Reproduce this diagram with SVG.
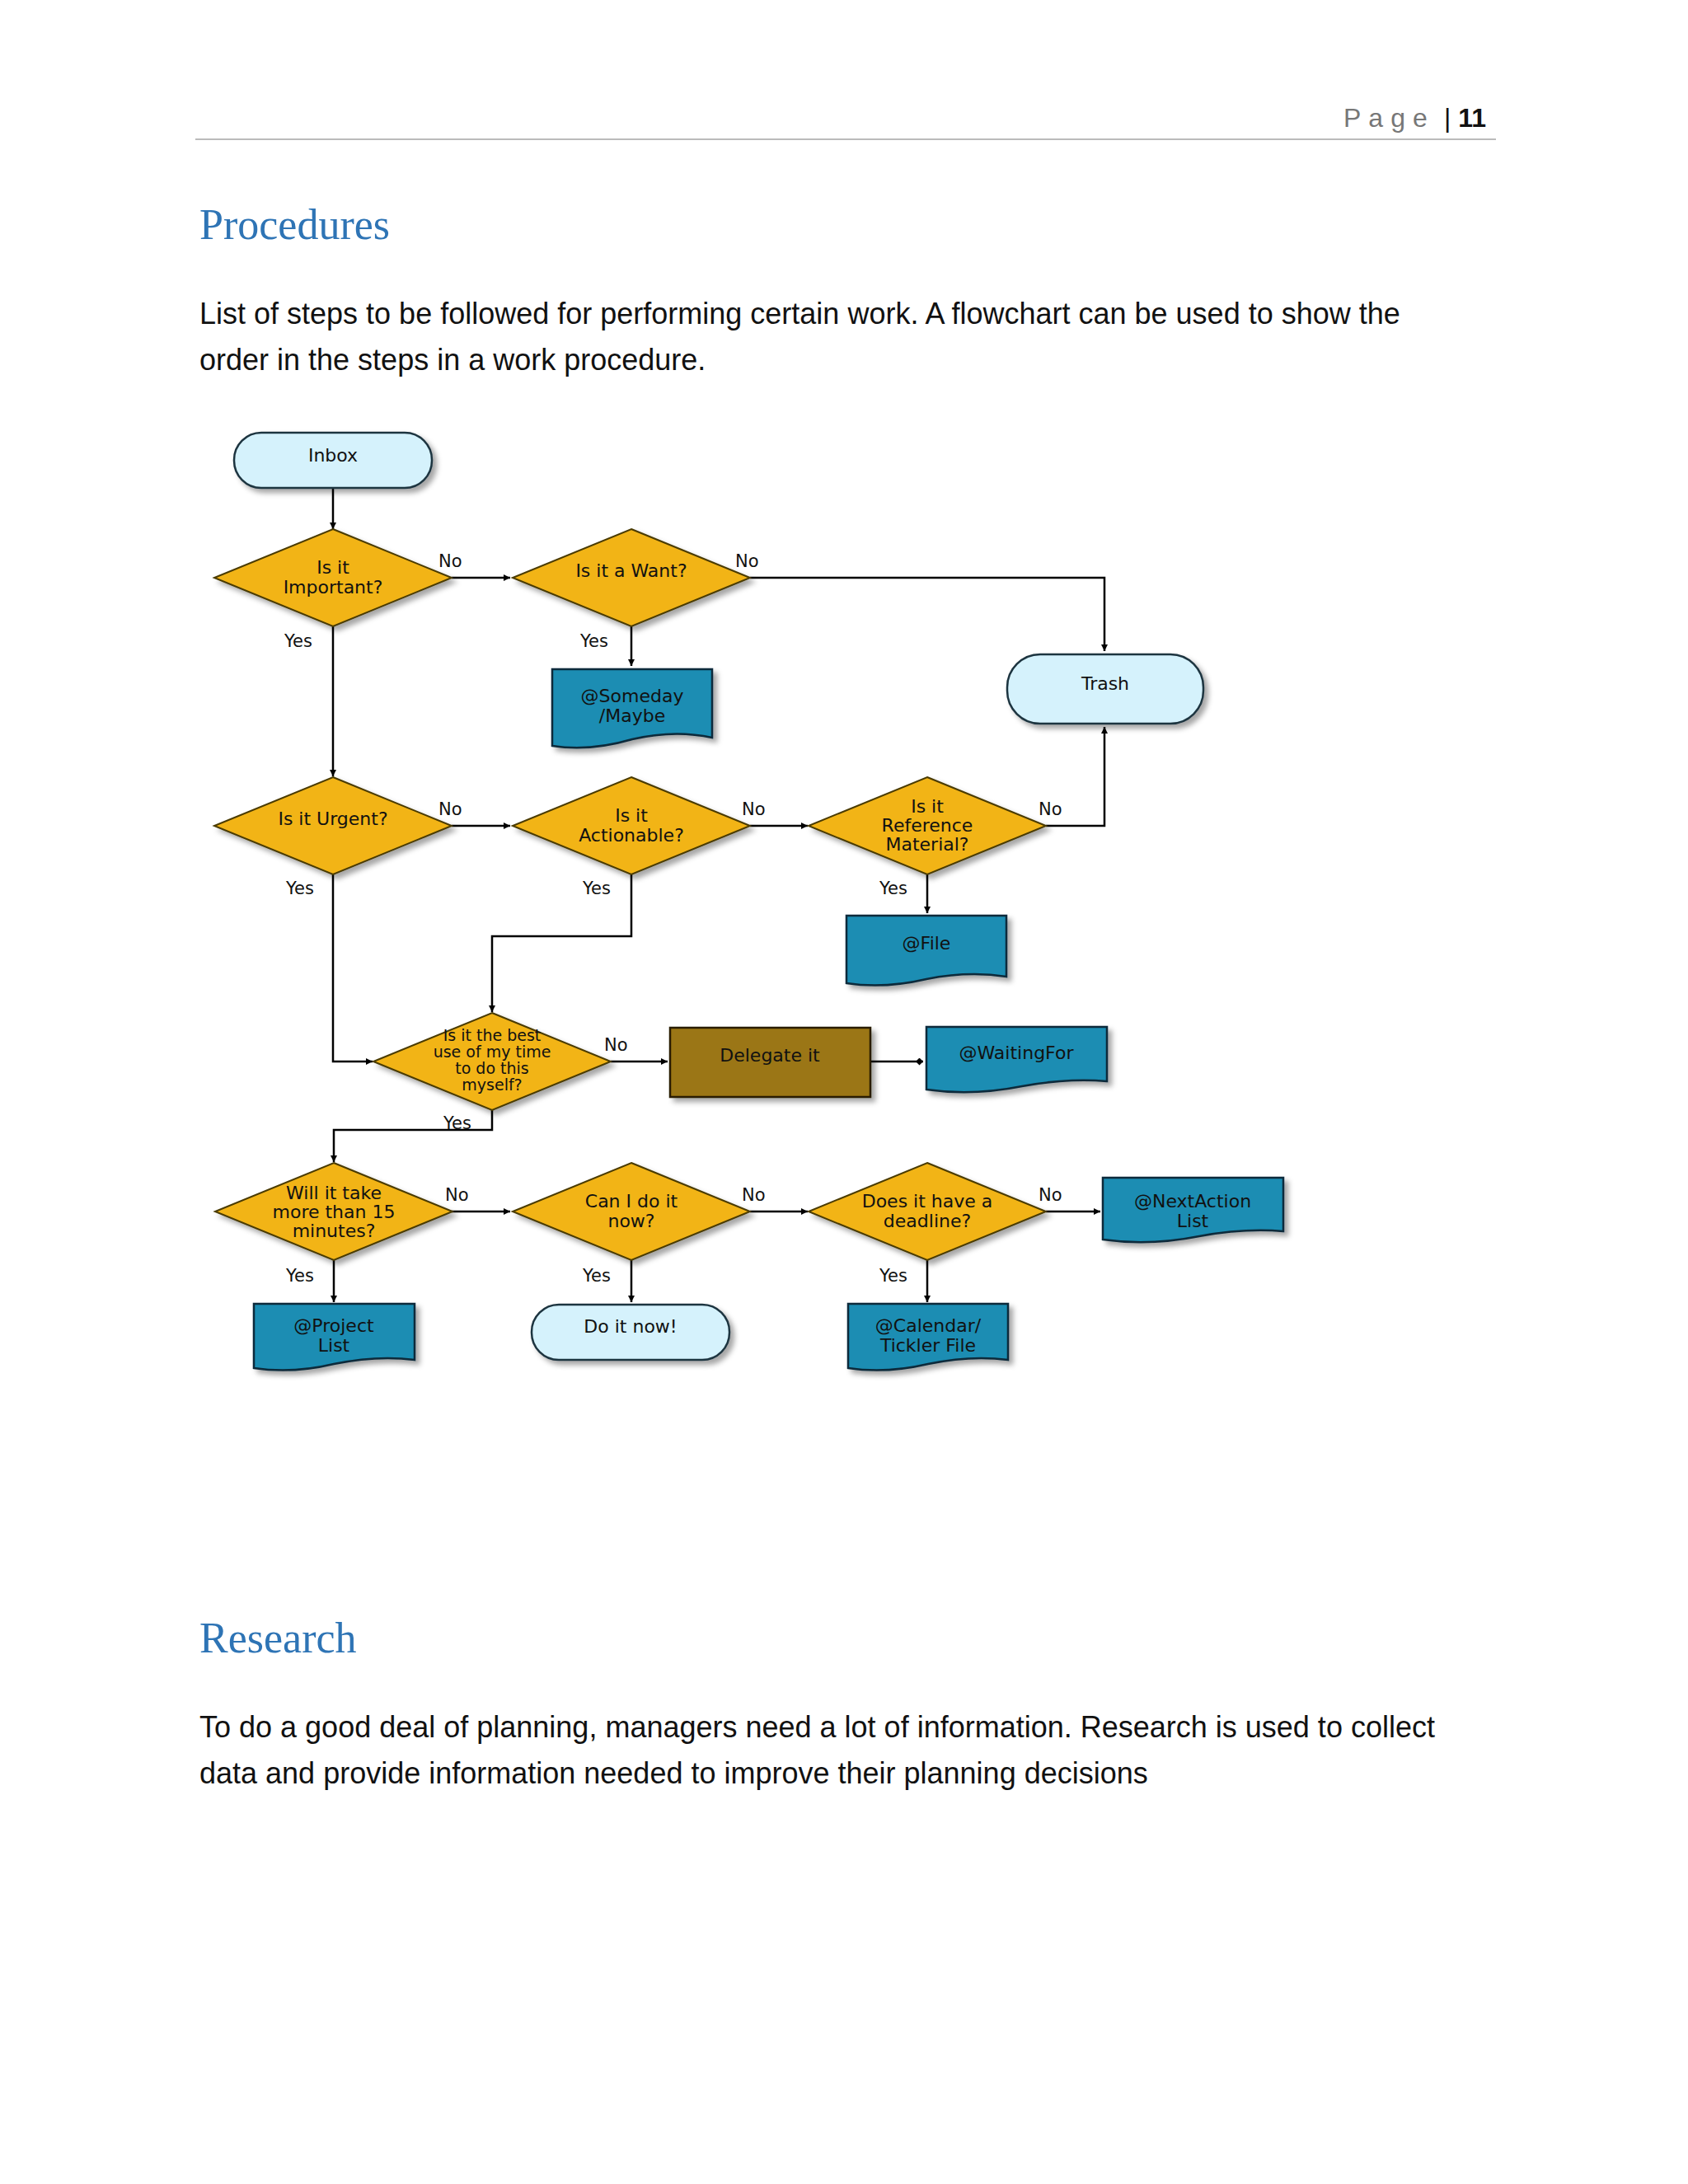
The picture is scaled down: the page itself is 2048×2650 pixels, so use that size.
<svg xmlns="http://www.w3.org/2000/svg" width="2048" height="2650" viewBox="0 0 2048 2650">
<defs>
<marker id="ar" viewBox="0 0 10 10" refX="10" refY="5" markerWidth="8" markerHeight="8" orient="auto" markerUnits="userSpaceOnUse"><path d="M0,0 L10,5 L0,10 z" fill="#000"/></marker>
<marker id="dm" viewBox="0 0 10 10" refX="10" refY="5" markerWidth="9" markerHeight="9" orient="auto" markerUnits="userSpaceOnUse"><path d="M0,5 L5,0 L10,5 L5,10 z" fill="#000"/></marker>
<filter id="sh" x="-10%" y="-10%" width="130%" height="130%"><feDropShadow dx="5" dy="5" stdDeviation="3" flood-opacity="0.35"/></filter>
</defs>
<style>
.d{fill:#f2b418;stroke:#4a3a00;stroke-width:2;filter:url(#sh)}
.doc{fill:#1b8db3;stroke:#0b2a3a;stroke-width:2.5;filter:url(#sh)}
.term{fill:#d5f2fc;stroke:#1f3440;stroke-width:2.5;filter:url(#sh)}
.t{font-family:"DejaVu Sans",sans-serif;font-size:22px;fill:#111;text-anchor:middle}
.l{font-family:"DejaVu Sans",sans-serif;font-size:21px;fill:#111}
.c{fill:none;stroke:#000;stroke-width:2.5;marker-end:url(#ar)}
.body{font-family:"Liberation Sans","Open Sans",sans-serif;font-size:36px;fill:#111}
.h{font-family:"Liberation Serif",serif;font-size:52px;fill:#2e74b5}
</style>
<rect width="2048" height="2650" fill="#fff"/>
<text x="1630" y="154" font-family="Liberation Sans, sans-serif" font-size="32" fill="#777" letter-spacing="9">Page</text>
<text x="1752" y="154" font-family="Liberation Sans, sans-serif" font-size="32" fill="#111">| <tspan font-weight="bold">11</tspan></text>
<line x1="237" y1="169" x2="1815" y2="169" stroke="#bbb" stroke-width="2"/>
<text class="h" x="242" y="290">Procedures</text>
<text class="body" x="242" y="393">List of steps to be followed for performing certain work. A flowchart can be used to show the</text>
<text class="body" x="242" y="449">order in the steps in a work procedure.</text>

<g id="connectors">
<path class="c" d="M404,592 V642"/>
<path class="c" d="M548,701 H619"/>
<path class="c" d="M910,701 H1340 V790"/>
<path class="c" d="M766,760 V808"/>
<path class="c" d="M404,760 V942"/>
<path class="c" d="M548,1002 H619"/>
<path class="c" d="M910,1002 H980"/>
<path class="c" d="M1269,1002 H1340 V882"/>
<path class="c" d="M1125,1061 V1108"/>
<path class="c" d="M766,1061 V1136 H597 V1228"/>
<path class="c" d="M404,1061 V1288 H452"/>
<path class="c" d="M741,1288 H810"/>
<path style="fill:none;stroke:#000;stroke-width:2.5;marker-end:url(#dm)" d="M1056,1288 H1120"/>
<path class="c" d="M597,1347 V1371 H405 V1410"/>
<path class="c" d="M548,1470 H619"/>
<path class="c" d="M910,1470 H980"/>
<path class="c" d="M1269,1470 H1335"/>
<path class="c" d="M405,1529 V1580"/>
<path class="c" d="M766,1529 V1580"/>
<path class="c" d="M1125,1529 V1580"/>
<text class="l" x="532" y="688">No</text><text class="l" x="892" y="688">No</text>
<text class="l" x="345" y="785">Yes</text><text class="l" x="704" y="785">Yes</text>
<text class="l" x="532" y="989">No</text><text class="l" x="900" y="989">No</text><text class="l" x="1260" y="989">No</text>
<text class="l" x="347" y="1085">Yes</text><text class="l" x="707" y="1085">Yes</text><text class="l" x="1067" y="1085">Yes</text>
<text class="l" x="733" y="1275">No</text><text class="l" x="538" y="1370">Yes</text>
<text class="l" x="540" y="1457">No</text><text class="l" x="900" y="1457">No</text><text class="l" x="1260" y="1457">No</text>
<text class="l" x="347" y="1555">Yes</text><text class="l" x="707" y="1555">Yes</text><text class="l" x="1067" y="1555">Yes</text>
</g>

<g id="inbox"><rect class="term" x="284" y="525" width="240" height="67" rx="33"/><text class="t" x="404" y="560">Inbox</text></g>
<g id="important"><path class="d" d="M404,642 L548,701 L404,760 L260,701 z"/><text class="t" x="404" y="696">Is it</text><text class="t" x="404" y="720">Important?</text></g>
<g id="want"><path class="d" d="M766,642 L910,701 L766,760 L622,701 z"/><text class="t" x="766" y="700">Is it a Want?</text></g>
<g id="trash"><rect class="term" x="1222" y="794" width="238" height="84" rx="40"/><text class="t" x="1341" y="837">Trash</text></g>
<g id="someday"><path class="doc" d="M670,812 H864 V895 Q818,885 767,897 Q716,912 670,905 z"/><text class="t" x="767" y="852">@Someday</text><text class="t" x="767" y="876">/Maybe</text></g>
<g id="urgent"><path class="d" d="M404,943 L548,1002 L404,1061 L260,1002 z"/><text class="t" x="404" y="1001">Is it Urgent?</text></g>
<g id="actionable"><path class="d" d="M766,943 L910,1002 L766,1061 L622,1002 z"/><text class="t" x="766" y="997">Is it</text><text class="t" x="766" y="1021">Actionable?</text></g>
<g id="reference"><path class="d" d="M1125,943 L1269,1002 L1125,1061 L981,1002 z"/><text class="t" x="1125" y="986">Is it</text><text class="t" x="1125" y="1009">Reference</text><text class="t" x="1125" y="1032">Material?</text></g>
<g id="file"><path class="doc" d="M1027,1111 H1221 V1185 Q1175,1178 1124,1188 Q1073,1200 1027,1193 z"/><text class="t" x="1124" y="1152">@File</text></g>
<g id="bestuse"><path class="d" d="M597,1229 L741,1288 L597,1347 L453,1288 z"/><text class="t" x="597" y="1263" style="font-size:19px">Is it the best</text><text class="t" x="597" y="1283" style="font-size:19px">use of my time</text><text class="t" x="597" y="1303" style="font-size:19px">to do this</text><text class="t" x="597" y="1323" style="font-size:19px">myself?</text></g>
<g id="delegate"><rect x="813" y="1247" width="243" height="84" fill="#9b7614" stroke="#2a1f00" stroke-width="2.5" filter="url(#sh)"/><text class="t" x="934" y="1288">Delegate it</text></g>
<g id="waiting"><path class="doc" d="M1124,1246 H1343 V1312 Q1295,1308 1240,1318 Q1180,1330 1124,1322 z"/><text class="t" x="1233" y="1285">@WaitingFor</text></g>
<g id="fifteen"><path class="d" d="M405,1411 L549,1470 L405,1529 L261,1470 z"/><text class="t" x="405" y="1455">Will it take</text><text class="t" x="405" y="1478">more than 15</text><text class="t" x="405" y="1501">minutes?</text></g>
<g id="cando"><path class="d" d="M766,1411 L910,1470 L766,1529 L622,1470 z"/><text class="t" x="766" y="1465">Can I do it</text><text class="t" x="766" y="1489">now?</text></g>
<g id="deadline"><path class="d" d="M1125,1411 L1269,1470 L1125,1529 L981,1470 z"/><text class="t" x="1125" y="1465">Does it have a</text><text class="t" x="1125" y="1489">deadline?</text></g>
<g id="nextaction"><path class="doc" d="M1338,1429 H1557 V1494 Q1510,1490 1455,1500 Q1395,1512 1338,1504 z"/><text class="t" x="1447" y="1465">@NextAction</text><text class="t" x="1447" y="1489">List</text></g>
<g id="project"><path class="doc" d="M308,1582 H503 V1650 Q458,1644 405,1655 Q355,1667 308,1660 z"/><text class="t" x="405" y="1616">@Project</text><text class="t" x="405" y="1640">List</text></g>
<g id="doitnow"><rect class="term" x="645" y="1583" width="240" height="67" rx="33"/><text class="t" x="765" y="1617">Do it now!</text></g>
<g id="calendar"><path class="doc" d="M1029,1582 H1223 V1650 Q1178,1644 1126,1655 Q1075,1667 1029,1660 z"/><text class="t" x="1126" y="1616">@Calendar/</text><text class="t" x="1126" y="1640">Tickler File</text></g>

<text class="h" x="242" y="2005">Research</text>
<text class="body" x="242" y="2108">To do a good deal of planning, managers need a lot of information. Research is used to collect</text>
<text class="body" x="242" y="2164">data and provide information needed to improve their planning decisions</text>
</svg>
